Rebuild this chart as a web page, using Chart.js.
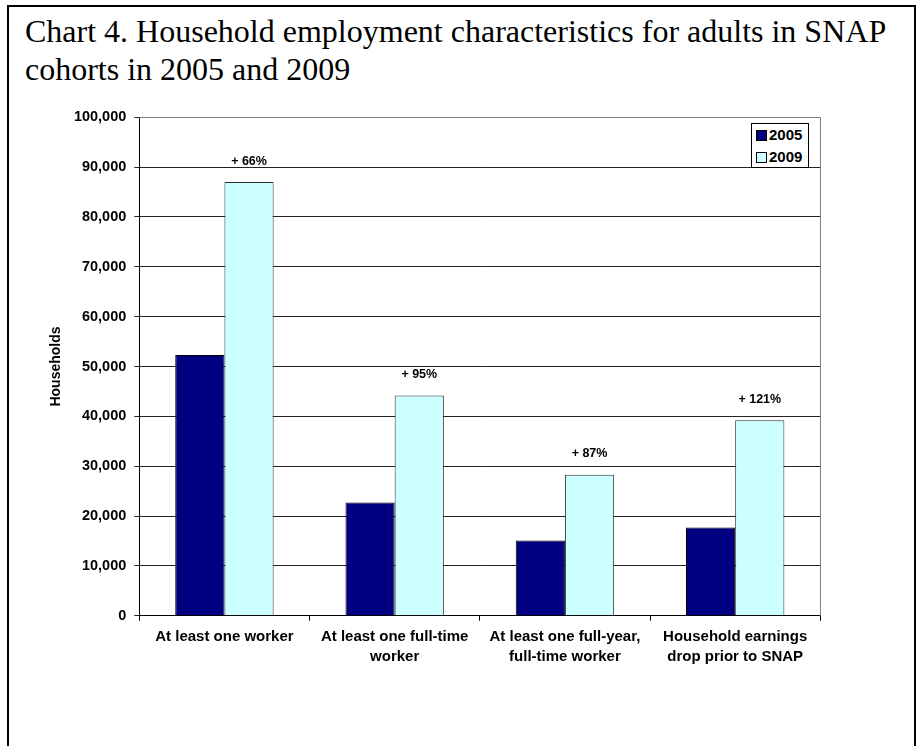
<!DOCTYPE html>
<html><head><meta charset="utf-8">
<script src="https://cdn.jsdelivr.net/npm/chart.js@4"></script>
<style>
html,body{margin:0;padding:0;background:#fff;width:923px;height:746px;overflow:hidden;}
#frame{position:absolute;left:7px;top:5px;width:905px;height:800px;border:2px solid #000;}
#title{position:absolute;left:25px;top:12px;font-family:"Liberation Serif","Times New Roman",serif;font-size:32px;line-height:38px;color:#000;white-space:nowrap;}
#wrap{position:absolute;left:0;top:0;width:923px;height:746px;}
#legend{position:absolute;left:751px;top:123px;width:56px;height:43px;border:1px solid #000;background:#fff;font:bold 15px "Liberation Sans",Arial,sans-serif;color:#000;}
.item{position:absolute;left:4px;height:18px;line-height:18px;white-space:nowrap;}
.sw{display:inline-block;width:9px;height:9px;border:1px solid #000;vertical-align:middle;margin-right:2px;position:relative;top:-1px;}
</style></head>
<body>
<div id="frame"></div>
<div id="title">Chart 4. Household employment characteristics for adults in SNAP<br>cohorts in 2005 and 2009</div>
<div id="wrap"><canvas id="c"></canvas></div>
<div id="legend"></div>
<script>
const categories = [
  ["At least one worker"],
  ["At least one full-time", "worker"],
  ["At least one full-year,", "full-time worker"],
  ["Household earnings", "drop prior to SNAP"]
];
const seriesNames = ["2005", "2009"];
const values2005 = [52300, 22700, 15100, 17700];
const values2009 = [87000, 44200, 28300, 39200];
const changeLabels = ["+ 66%", "+ 95%", "+ 87%", "+ 121%"];
const yTicks = [0, 10000, 20000, 30000, 40000, 50000, 60000, 70000, 80000, 90000, 100000];
const colors = ["#000080", "#CCFFFF"];
const borders = ["#000000", "#333333"];

const FONT = '"Liberation Sans", Arial, sans-serif';

// legend (HTML)
const leg = document.getElementById('legend');
seriesNames.forEach((n, i) => {
  const d = document.createElement('div');
  d.className = 'item';
  d.style.top = (i === 0 ? 2 : 24) + 'px';
  d.innerHTML = '<span class="sw" style="background:' + colors[i] + '"></span>' + n;
  leg.appendChild(d);
});

const pctPlugin = {
  id: 'pct',
  afterDatasetsDraw(chart) {
    const ctx = chart.ctx;
    const meta = chart.getDatasetMeta(1);
    ctx.save();
    ctx.font = 'bold 12.5px ' + FONT;
    ctx.fillStyle = '#000';
    ctx.textAlign = 'center';
    ctx.textBaseline = 'middle';
    meta.data.forEach((bar, i) => {
      ctx.fillText(changeLabels[i], bar.x, bar.y - 21);
    });
    ctx.restore();
  }
};

const framePlugin = {
  id: 'frameLines',
  afterDraw(chart) {
    const a = chart.chartArea, ctx = chart.ctx;
    ctx.save();
    ctx.strokeStyle = '#808080';
    ctx.lineWidth = 1;
    ctx.beginPath();
    ctx.moveTo(a.left, Math.round(a.top) + 0.5);
    ctx.lineTo(Math.round(a.right) + 0.5, Math.round(a.top) + 0.5);
    ctx.lineTo(Math.round(a.right) + 0.5, a.bottom);
    ctx.stroke();
    ctx.restore();
  }
};

new Chart(document.getElementById('c'), {
  type: 'bar',
  data: {
    labels: categories,
    datasets: [
      { label: seriesNames[0], data: values2005, backgroundColor: colors[0], borderColor: borders[0], borderWidth: 1, borderSkipped: 'bottom' },
      { label: seriesNames[1], data: values2009, backgroundColor: colors[1], borderColor: borders[1], borderWidth: 1, borderSkipped: 'bottom' }
    ]
  },
  options: {
    responsive: true,
    maintainAspectRatio: false,
    animation: false,
    datasets: { bar: { categoryPercentage: 0.578, barPercentage: 1.0 } },
    layout: { padding: { left: 44, top: 117.3, right: 102.7, bottom: 0 } },
    plugins: { legend: { display: false }, tooltip: { enabled: false } },
    scales: {
      x: {
        afterFit(s) { s.height = 130.3; },
        grid: { offset: true, drawOnChartArea: false, drawTicks: true, tickLength: 5, color: '#000' },
        border: { color: '#000', width: 1 },
        ticks: { color: '#000', font: { family: FONT, size: 15, weight: 'bold', lineHeight: 1.33 }, padding: 6, maxRotation: 0, autoSkip: false }
      },
      y: {
        min: 0, max: 100000,
        afterFit(s) { s.width = 95.3; },
        afterBuildTicks(s) { s.ticks = yTicks.map(v => ({ value: v })); },
        grid: { color: '#222', drawTicks: true, tickLength: 5 },
        border: { color: '#000', width: 1 },
        ticks: { color: '#000', font: { family: FONT, size: 14.5, weight: 'bold' }, padding: 8,
          callback: v => v.toLocaleString('en-US') },
        title: { display: true, text: 'Households', color: '#000', font: { family: FONT, size: 14, weight: 'bold' }, padding: { top: 4, bottom: 0 } }
      }
    }
  },
  plugins: [pctPlugin, framePlugin]
});
</script>
</body></html>
